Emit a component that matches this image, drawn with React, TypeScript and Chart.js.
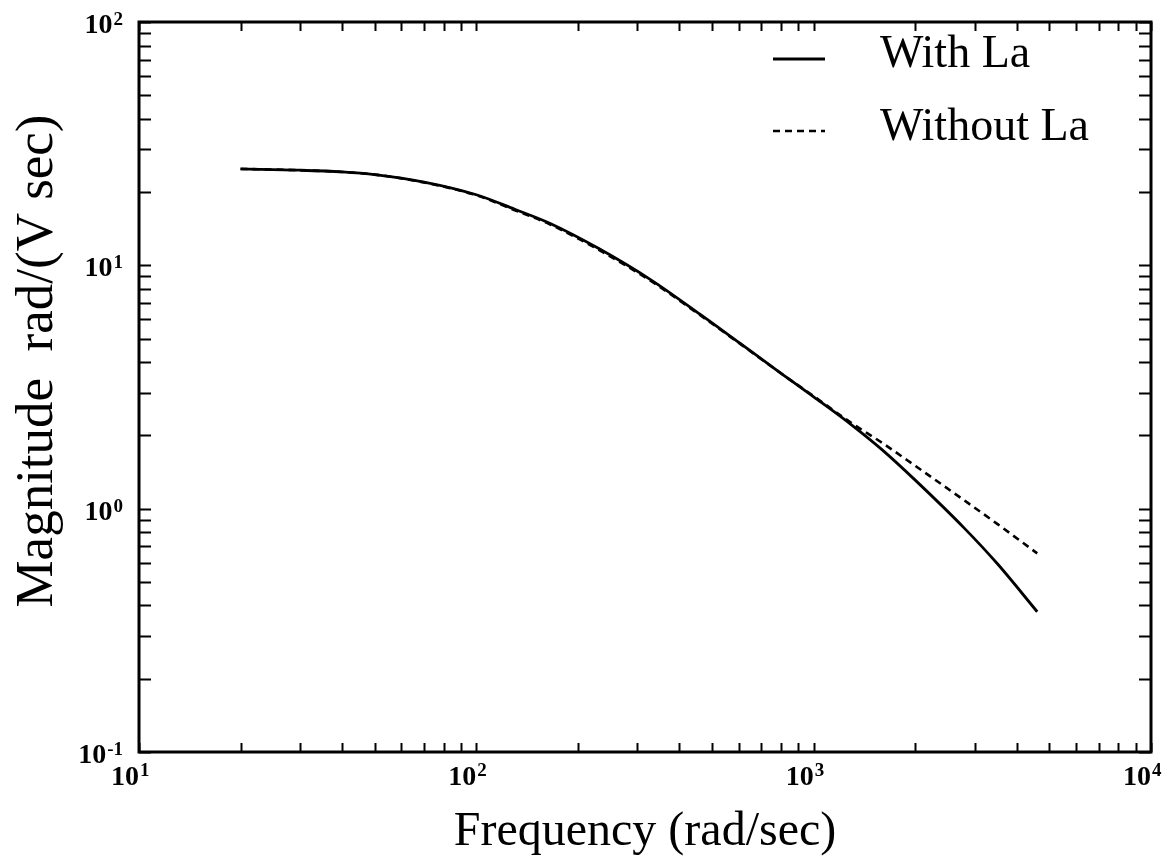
import { useEffect, useRef } from 'react';
import { Chart, registerables } from 'chart.js';

Chart.register(...registerables);

// ---- data ----
const frequency = [20, 30, 40, 50, 70, 100, 130, 165, 230, 330, 460, 600, 800, 1000, 1300, 1600, 2000, 2800, 3500, 4600];
const withLa = [24.9, 24.6, 24.2, 23.6, 22.0, 19.5, 17.0, 14.9, 11.75, 8.7, 6.3, 4.82, 3.6, 2.88, 2.2, 1.74, 1.31, 0.83, 0.595, 0.377];
const withoutLa = [24.9, 24.6, 24.2, 23.6, 21.9, 19.4, 16.85, 14.75, 11.6, 8.6, 6.25, 4.8, 3.6, 2.9, 2.24, 1.86, 1.5, 1.08, 0.866, 0.655];
const seriesNames = ['With La', 'Without La'];

const xDecades = [10, 100, 1000, 10000];
const xExponents = ['1', '2', '3', '4'];
const yDecades = [0.1, 1, 10, 100];
const yExponents = ['-1', '0', '1', '2'];
const minorMultipliers = [1, 2, 3, 4, 5, 6, 7, 8, 9];

const xTitle = 'Frequency (rad/sec)';
const yTitle = 'Magnitude  rad/(V sec)';

const FONT = '"Liberation Serif", "Times New Roman", serif';

function tickValues(decades: number[]) {
  const out: number[] = [];
  for (let i = 0; i < decades.length - 1; i++) {
    for (const m of minorMultipliers) out.push(decades[i] * m);
  }
  out.push(decades[decades.length - 1]);
  return out;
}

const framePlugin = {
  id: 'frameAndLabels',
  afterDraw(chart: any) {
    const { ctx, chartArea: a, scales } = chart;
    const x = scales.x;
    const y = scales.y;
    ctx.save();
    ctx.strokeStyle = '#000';
    ctx.fillStyle = '#000';

    // inward tick marks on all four sides
    ctx.lineWidth = 2;
    ctx.beginPath();
    for (const v of tickValues(xDecades)) {
      const px = Math.round(x.getPixelForValue(v)) + 0.5;
      ctx.moveTo(px, a.bottom);
      ctx.lineTo(px, a.bottom - 9);
      ctx.moveTo(px, a.top);
      ctx.lineTo(px, a.top + 9);
    }
    for (const v of tickValues(yDecades)) {
      const py = Math.round(y.getPixelForValue(v)) + 0.5;
      ctx.moveTo(a.left, py);
      ctx.lineTo(a.left + 12, py);
      ctx.moveTo(a.right, py);
      ctx.lineTo(a.right - 12, py);
    }
    ctx.stroke();

    // frame
    ctx.lineWidth = 3;
    ctx.strokeRect(a.left, a.top, a.right - a.left, a.bottom - a.top);

    // x tick labels
    xDecades.forEach((v, i) => {
      const px = x.getPixelForValue(v);
      ctx.font = `bold 28px ${FONT}`;
      ctx.textAlign = 'right';
      ctx.textBaseline = 'alphabetic';
      ctx.fillText('10', px, a.bottom + 33);
      ctx.font = `bold 19px ${FONT}`;
      ctx.textAlign = 'left';
      ctx.fillText(xExponents[i], px + 1, a.bottom + 24);
    });

    // y tick labels
    yDecades.forEach((v, i) => {
      const py = y.getPixelForValue(v);
      ctx.font = `bold 19px ${FONT}`;
      const ew = ctx.measureText(yExponents[i]).width;
      const right = a.left - 16;
      ctx.textAlign = 'right';
      ctx.textBaseline = 'alphabetic';
      ctx.fillText(yExponents[i], right, py + 3);
      ctx.font = `bold 28px ${FONT}`;
      ctx.fillText('10', right - ew - 1, py + 11);
    });

    // axis titles
    ctx.font = `48px ${FONT}`;
    ctx.textAlign = 'center';
    ctx.textBaseline = 'alphabetic';
    ctx.fillText(xTitle, (a.left + a.right) / 2, 845);

    ctx.save();
    ctx.translate(52, 361);
    ctx.rotate(-Math.PI / 2);
    ctx.font = `53px ${FONT}`;
    ctx.fillText(yTitle, 0, 0);
    ctx.restore();

    // legend (inside top-right)
    const lineYs = [59, 131];
    const textYs = [67, 140];
    chart.data.datasets.forEach((ds: any, i: number) => {
      ctx.save();
      ctx.lineWidth = ds.borderWidth;
      ctx.setLineDash(ds.borderDash || []);
      ctx.beginPath();
      ctx.moveTo(773, lineYs[i]);
      ctx.lineTo(825, lineYs[i]);
      ctx.stroke();
      ctx.restore();
      ctx.font = `46px ${FONT}`;
      ctx.textAlign = 'left';
      ctx.textBaseline = 'alphabetic';
      ctx.fillText(ds.label, 880, textYs[i]);
    });

    ctx.restore();
  },
};

export default function App() {
  const ref = useRef<HTMLCanvasElement | null>(null);

  useEffect(() => {
    if (!ref.current) return;
    const chart = new Chart(ref.current, {
      type: 'line',
      data: {
        datasets: [
          {
            label: seriesNames[0],
            data: frequency.map((f, i) => ({ x: f, y: withLa[i] })),
            borderColor: '#000',
            borderWidth: 2.8,
            pointRadius: 0,
            cubicInterpolationMode: 'monotone',
            fill: false,
          },
          {
            label: seriesNames[1],
            data: frequency.map((f, i) => ({ x: f, y: withoutLa[i] })),
            borderColor: '#000',
            borderWidth: 2.6,
            borderDash: [7, 5],
            pointRadius: 0,
            cubicInterpolationMode: 'monotone',
            fill: false,
          },
        ],
      },
      options: {
        responsive: false,
        animation: false,
        layout: { padding: { left: 0, top: 22, right: 25, bottom: 0 } },
        plugins: { legend: { display: false }, tooltip: { enabled: false }, title: { display: false } },
        scales: {
          x: {
            type: 'logarithmic',
            min: 10,
            max: 10000,
            grid: { display: false, drawTicks: false },
            border: { display: false },
            ticks: { display: false },
            afterFit: (s: any) => { s.height = 111; },
          },
          y: {
            type: 'logarithmic',
            min: 0.1,
            max: 100,
            grid: { display: false, drawTicks: false },
            border: { display: false },
            ticks: { display: false },
            afterFit: (s: any) => { s.width = 139; },
          },
        },
      } as any,
      plugins: [framePlugin],
    });
    return () => chart.destroy();
  }, []);

  return (
    <div style={{ position: 'absolute', left: 0, top: 0, width: 1176, height: 863, background: '#fff' }}>
      <canvas ref={ref} width={1176} height={863} />
    </div>
  );
}
